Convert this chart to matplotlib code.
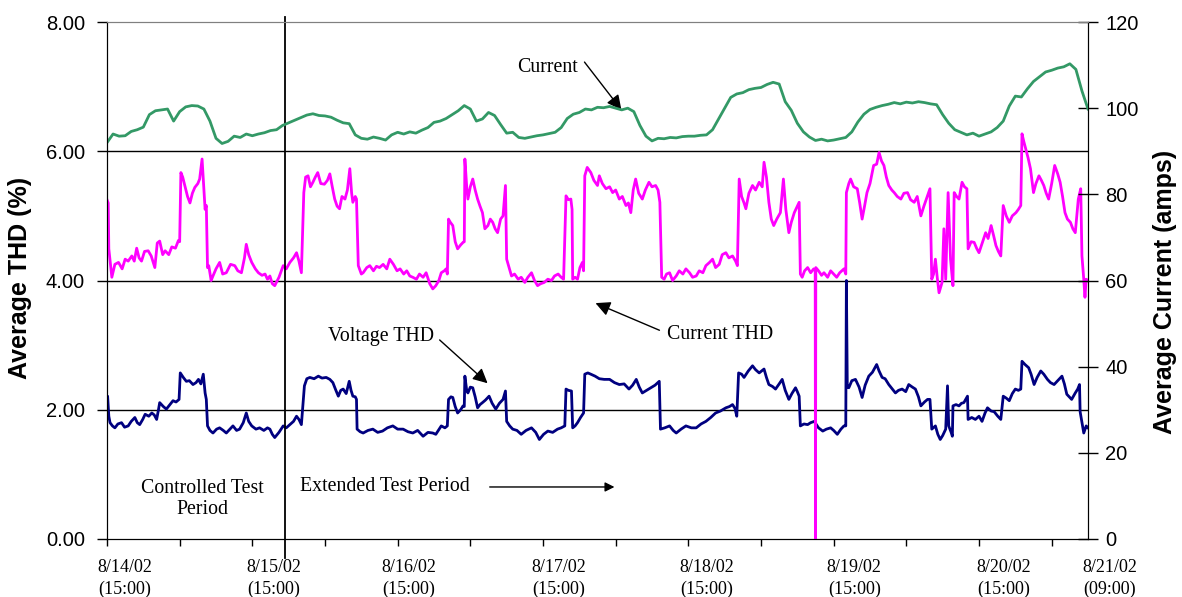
import numpy as np
import matplotlib.pyplot as plt
from matplotlib.transforms import blended_transform_factory

# hours since 8/14/02 15:00
HOURS_TOTAL = 162

# average current (amps), hourly
current_amps = [
    92.0, 94.0, 93.5, 93.6, 94.6, 95.0, 95.6, 98.5, 99.4, 99.6, 99.8, 97.0, 99.2, 100.3,
    100.6, 100.5, 99.8, 97.0, 93.0, 91.8, 92.3, 93.5, 93.2, 94.0, 93.6, 94.0, 94.3, 94.8,
    95.0, 96.0, 96.6, 97.2, 97.8, 98.4, 98.7, 98.3, 98.2, 97.9, 97.2, 96.6, 96.4, 93.8,
    93.0, 92.8, 93.3, 93.0, 92.6, 93.8, 94.4, 94.0, 94.5, 94.2, 94.9, 95.5, 96.7,
    97.0, 97.6, 98.5, 99.4, 100.6, 99.8, 97.0, 97.5, 99.0, 98.3, 96.2, 94.2, 94.4, 93.2,
    93.0, 93.3, 93.6, 93.8, 94.1, 94.4, 95.5, 97.6, 98.6, 99.0, 99.8, 99.6, 100.2,
    100.1, 100.4, 100.0, 99.6, 100.0, 99.2, 96.0, 93.5, 92.4, 93.0, 92.9, 93.2, 93.1,
    93.4, 93.5, 93.5, 93.7, 93.8, 95.0, 97.5, 100.0, 102.5, 103.3, 103.6, 104.3, 104.6, 104.8,
    105.5, 106.0, 105.6, 101.5, 99.5, 96.5, 94.5, 93.3, 92.5, 92.8, 92.4, 92.6, 92.9,
    93.2, 94.5, 96.8, 98.6, 99.7, 100.2, 100.6, 100.9, 101.3, 101.0, 101.4, 101.2, 101.5, 101.3,
    101.0, 100.8, 98.5, 96.5, 95.0, 94.4, 93.8, 94.2, 93.5, 94.0, 94.5, 95.5, 97.0,
    100.5, 102.8, 102.6, 104.5, 106.2, 107.3, 108.4, 108.8, 109.3, 109.6, 110.3, 109.0, 104.0, 99.8,
]
current_hours = np.arange(len(current_amps))

# current THD (%), (hour, value)
current_thd = [
    (0.0, 5.25), (0.2, 5.20), (0.3, 4.49), (0.8, 4.05), (1.3, 4.25), (1.9, 4.28), (2.5, 4.18),
    (3.0, 4.33), (3.5, 4.30), (4.1, 4.38), (4.5, 4.30), (4.9, 4.50), (5.3, 4.35), (5.7, 4.30),
    (6.2, 4.45), (6.8, 4.46), (7.3, 4.38), (7.9, 4.20), (8.3, 4.58), (8.7, 4.61), (9.2, 4.40),
    (9.6, 4.46), (10.2, 4.40), (10.7, 4.52), (11.3, 4.50), (11.8, 4.62), (12.0, 4.60),
    (12.2, 5.67), (12.5, 5.60), (12.9, 5.45), (13.3, 5.30), (13.7, 5.20), (14.1, 5.35),
    (14.5, 5.44), (15.0, 5.50), (15.3, 5.57), (15.7, 5.88), (16.0, 5.40), (16.2, 5.10),
    (16.4, 5.16), (16.6, 4.20), (16.8, 4.23), (17.2, 4.00), (17.5, 4.07), (18.0, 4.18),
    (18.6, 4.28), (19.1, 4.10), (19.7, 4.12), (20.4, 4.25), (21.1, 4.23), (21.6, 4.15),
    (22.2, 4.12), (22.7, 4.35), (23.0, 4.56), (23.4, 4.40), (23.9, 4.28), (24.5, 4.18),
    (25.0, 4.12), (25.6, 4.08), (26.1, 4.10), (26.5, 4.02), (26.9, 4.07), (27.3, 3.95),
    (27.7, 3.92), (28.4, 4.05), (29.1, 4.23), (29.6, 4.18), (30.2, 4.28), (30.8, 4.35),
    (31.3, 4.43), (31.7, 4.30), (32.1, 4.12), (32.5, 5.36), (32.8, 5.60), (33.2, 5.62),
    (33.6, 5.45), (34.0, 5.52), (34.4, 5.60), (34.8, 5.67), (35.3, 5.50), (35.9, 5.49),
    (36.4, 5.55), (36.8, 5.65), (37.2, 5.45), (37.6, 5.26), (38.0, 5.15), (38.4, 5.11),
    (38.8, 5.30), (39.3, 5.26), (39.7, 5.40), (40.1, 5.73), (40.4, 5.35), (40.6, 5.21),
    (41.0, 5.30), (41.2, 5.26), (41.5, 4.23), (42.0, 4.10), (42.3, 4.12), (42.9, 4.20),
    (43.4, 4.23), (44.0, 4.15), (44.5, 4.22), (45.0, 4.20), (45.6, 4.25), (46.2, 4.18),
    (46.7, 4.33), (47.3, 4.25), (47.9, 4.15), (48.4, 4.18), (49.0, 4.10), (49.5, 4.15),
    (50.0, 4.07), (50.5, 4.05), (51.1, 4.02), (51.6, 4.10), (52.2, 4.05), (52.7, 4.12),
    (53.3, 3.95), (53.8, 3.87), (54.3, 3.92), (54.8, 4.00), (55.2, 4.12), (55.7, 4.15),
    (56.0, 4.18), (56.2, 4.10), (56.4, 4.95), (56.7, 4.90), (57.1, 4.85), (57.5, 4.60),
    (57.9, 4.49), (58.4, 4.55), (58.8, 4.59), (59.0, 4.60), (59.1, 5.88), (59.4, 5.45),
    (59.6, 5.26), (60.0, 5.45), (60.4, 5.57), (60.8, 5.40), (61.2, 5.26), (61.6, 5.15),
    (62.0, 5.05), (62.4, 4.80), (62.9, 4.85), (63.3, 4.95), (63.7, 4.90), (64.1, 4.80),
    (64.5, 4.74), (65.0, 4.95), (65.4, 5.00), (65.8, 5.47), (66.0, 4.33), (66.4, 4.20),
    (66.8, 4.07), (67.3, 4.10), (67.9, 4.02), (68.4, 4.05), (69.0, 3.97), (69.5, 4.05),
    (70.1, 4.12), (70.6, 4.00), (71.1, 3.92), (71.6, 3.95), (72.2, 3.97), (72.8, 4.02),
    (73.4, 4.00), (73.9, 4.07), (74.5, 4.10), (75.0, 4.05), (75.4, 4.02), (75.8, 5.31),
    (76.2, 5.25), (76.6, 5.26), (76.8, 5.10), (76.9, 4.02), (77.3, 4.05), (77.7, 4.02),
    (78.1, 4.20), (78.5, 4.28), (78.7, 4.15), (78.9, 5.62), (79.3, 5.75), (79.9, 5.67),
    (80.4, 5.55), (81.0, 5.47), (81.3, 5.62), (81.8, 5.50), (82.4, 5.42), (83.0, 5.45),
    (83.5, 5.36), (84.0, 5.40), (84.6, 5.26), (85.1, 5.30), (85.7, 5.16), (86.1, 5.20),
    (86.5, 5.05), (86.9, 5.40), (87.3, 5.57), (87.8, 5.35), (88.4, 5.26), (88.9, 5.40),
    (89.5, 5.52), (90.0, 5.45), (90.6, 5.47), (91.0, 5.40), (91.3, 5.21), (91.6, 4.05),
    (92.0, 4.02), (92.4, 4.10), (92.9, 4.12), (93.4, 4.00), (94.0, 4.07), (94.5, 4.15),
    (95.1, 4.10), (95.6, 4.18), (96.2, 4.12), (96.7, 4.05), (97.3, 4.07), (97.8, 4.15),
    (98.4, 4.12), (98.9, 4.23), (99.5, 4.28), (100.0, 4.33), (100.5, 4.20), (101.1, 4.25),
    (101.6, 4.40), (102.2, 4.43), (102.7, 4.35), (103.3, 4.38), (103.8, 4.30), (104.1, 4.23),
    (104.4, 5.57), (104.8, 5.30), (105.2, 5.20), (105.5, 5.11), (106.0, 5.35), (106.6, 5.47),
    (107.1, 5.40), (107.7, 5.52), (108.2, 5.45), (108.5, 5.83), (108.9, 5.60), (109.3, 5.21),
    (109.7, 4.95), (110.1, 4.85), (110.6, 4.95), (111.2, 5.05), (111.7, 5.57), (112.1, 5.10),
    (112.6, 4.74), (113.0, 4.90), (113.5, 5.05), (114.0, 5.15), (114.3, 5.21), (114.5, 4.10),
    (114.8, 4.05), (115.2, 4.15), (115.7, 4.20), (116.2, 4.12), (116.7, 4.18), (116.95, 4.15),
    (117.0, 0.0), (117.05, 4.20), (117.5, 4.15), (118.0, 4.08), (118.4, 4.12), (119.0, 4.05),
    (119.5, 4.15), (120.0, 4.10), (120.5, 4.05), (121.0, 4.12), (121.7, 4.18), (122.0, 4.10),
    (122.1, 5.36), (122.5, 5.50), (122.8, 5.57), (123.3, 5.45), (123.9, 5.42), (124.3, 5.20),
    (124.7, 4.95), (125.1, 5.15), (125.5, 5.36), (126.0, 5.50), (126.6, 5.78), (127.1, 5.80),
    (127.5, 5.98), (127.9, 5.85), (128.3, 5.78), (128.7, 5.60), (129.1, 5.47), (129.6, 5.40),
    (130.0, 5.36), (130.5, 5.30), (131.1, 5.26), (131.6, 5.35), (132.2, 5.36), (132.7, 5.25),
    (133.3, 5.21), (133.8, 5.30), (134.4, 5.00), (134.9, 5.15), (135.5, 5.31), (135.9, 5.42),
    (136.2, 4.02), (136.5, 4.10), (136.8, 4.33), (137.1, 4.05), (137.4, 3.81), (137.9, 3.97),
    (138.2, 4.80), (138.5, 4.02), (138.9, 5.36), (139.3, 4.33), (139.7, 3.92), (139.9, 5.36),
    (140.3, 5.30), (140.7, 5.26), (141.2, 5.52), (141.6, 5.45), (142.0, 5.42), (142.2, 4.49),
    (142.7, 4.60), (143.2, 4.59), (143.6, 4.50), (144.0, 4.43), (144.6, 4.60), (145.1, 4.74),
    (145.5, 4.65), (146.0, 4.85), (146.4, 4.70), (146.8, 4.54), (147.2, 4.45), (147.6, 4.38),
    (148.0, 5.16), (148.5, 5.00), (149.0, 4.90), (149.5, 5.00), (150.1, 5.05), (150.5, 5.10),
    (150.9, 5.16), (151.1, 6.27), (151.4, 6.15), (151.7, 6.04), (152.1, 5.90), (152.5, 5.73),
    (153.0, 5.36), (153.4, 5.50), (153.9, 5.62), (154.3, 5.55), (154.7, 5.47), (155.1, 5.35),
    (155.5, 5.26), (156.0, 5.50), (156.5, 5.78), (157.0, 5.65), (157.4, 5.52), (157.8, 5.30),
    (158.2, 5.05), (158.6, 4.95), (159.1, 4.90), (159.5, 4.80), (159.9, 4.74), (160.4, 5.26),
    (160.8, 5.42), (161.0, 4.38), (161.3, 4.02), (161.5, 3.74), (161.7, 4.02), (162.0, 4.00),
]

# voltage THD (%), (hour, value)
voltage_thd = [
    (0.0, 2.00), (0.1, 2.21), (0.3, 1.90), (0.5, 1.80), (0.9, 1.75), (1.3, 1.72), (1.8, 1.78),
    (2.4, 1.80), (2.9, 1.73), (3.5, 1.75), (4.0, 1.82), (4.6, 1.88), (5.0, 1.80), (5.4, 1.77),
    (5.9, 1.85), (6.3, 1.93), (6.9, 1.90), (7.4, 1.95), (7.8, 1.92), (8.2, 1.85), (8.5, 2.00),
    (8.7, 2.11), (9.3, 2.05), (9.8, 2.01), (10.4, 2.08), (10.9, 2.14), (11.4, 2.12), (11.9, 2.16),
    (12.1, 2.57), (12.6, 2.50), (13.1, 2.44), (13.6, 2.45), (14.2, 2.39), (14.7, 2.42),
    (15.1, 2.47), (15.5, 2.40), (15.9, 2.55), (16.2, 2.26), (16.4, 2.16), (16.6, 1.75),
    (17.0, 1.68), (17.5, 1.64), (18.1, 1.70), (18.6, 1.72), (19.2, 1.68), (19.7, 1.64),
    (20.3, 1.70), (20.8, 1.75), (21.4, 1.68), (21.9, 1.70), (22.5, 1.80), (23.0, 1.95),
    (23.4, 1.82), (23.9, 1.75), (24.6, 1.70), (25.2, 1.72), (25.9, 1.68), (26.5, 1.72),
    (26.9, 1.70), (27.3, 1.62), (27.7, 1.57), (28.4, 1.65), (29.1, 1.75), (29.6, 1.72),
    (30.2, 1.77), (30.8, 1.82), (31.3, 1.90), (31.7, 1.85), (32.1, 1.77), (32.6, 2.37),
    (33.0, 2.48), (33.5, 2.50), (34.2, 2.48), (34.9, 2.52), (35.5, 2.49), (36.2, 2.50),
    (36.8, 2.47), (37.3, 2.42), (37.8, 2.30), (38.2, 2.21), (38.6, 2.30), (39.0, 2.32),
    (39.5, 2.25), (40.0, 2.44), (40.3, 2.30), (40.6, 2.21), (41.0, 2.20), (41.2, 2.16),
    (41.3, 1.70), (41.8, 1.66), (42.3, 1.64), (43.1, 1.68), (43.9, 1.70), (44.7, 1.65),
    (45.5, 1.67), (46.3, 1.72), (47.2, 1.75), (48.0, 1.70), (48.9, 1.70), (49.7, 1.66),
    (50.5, 1.64), (51.3, 1.68), (52.2, 1.59), (53.0, 1.65), (53.8, 1.64), (54.3, 1.62),
    (55.2, 1.75), (55.8, 1.72), (56.2, 1.75), (56.4, 2.16), (56.8, 2.20), (57.1, 2.19),
    (57.5, 2.05), (57.9, 1.95), (58.4, 2.00), (58.8, 2.06), (59.0, 2.05), (59.1, 2.52),
    (59.4, 2.30), (59.6, 2.26), (60.0, 2.35), (60.4, 2.34), (60.8, 2.20), (61.2, 2.03),
    (61.6, 2.08), (62.0, 2.11), (62.5, 2.15), (63.1, 2.21), (63.6, 2.10), (64.2, 2.01),
    (64.8, 2.10), (65.4, 2.16), (65.8, 2.29), (66.0, 1.82), (66.5, 1.75), (67.0, 1.70),
    (67.7, 1.68), (68.4, 1.62), (69.2, 1.68), (70.1, 1.72), (70.8, 1.65), (71.4, 1.54),
    (72.1, 1.62), (72.8, 1.67), (73.6, 1.65), (74.4, 1.70), (75.0, 1.72), (75.6, 1.75),
    (75.8, 2.32), (76.2, 2.30), (76.7, 2.29), (76.9, 1.72), (77.3, 1.75), (77.7, 1.80),
    (78.2, 1.88), (78.7, 1.95), (78.9, 2.55), (79.4, 2.57), (79.9, 2.55), (80.6, 2.52),
    (81.3, 2.48), (82.1, 2.47), (83.0, 2.47), (83.8, 2.42), (84.6, 2.39), (85.4, 2.40),
    (86.2, 2.32), (86.8, 2.38), (87.4, 2.47), (87.9, 2.35), (88.4, 2.26), (89.1, 2.30),
    (89.8, 2.34), (90.5, 2.38), (91.2, 2.44), (91.4, 1.70), (92.1, 1.72), (92.9, 1.75),
    (93.5, 1.68), (94.0, 1.64), (94.8, 1.70), (95.6, 1.75), (96.5, 1.72), (97.3, 1.72),
    (98.1, 1.78), (98.9, 1.82), (99.7, 1.88), (100.5, 1.95), (101.3, 1.98), (102.2, 2.03),
    (102.8, 2.05), (103.3, 2.08), (103.7, 2.02), (104.0, 1.90), (104.3, 2.57), (104.8, 2.55),
    (105.2, 2.50), (105.9, 2.60), (106.6, 2.68), (107.1, 2.62), (107.7, 2.57), (108.1, 2.60),
    (108.5, 2.63), (108.9, 2.50), (109.3, 2.39), (109.9, 2.36), (110.4, 2.32), (111.0, 2.40),
    (111.5, 2.47), (112.0, 2.30), (112.6, 2.16), (113.1, 2.25), (113.7, 2.34), (114.0, 2.28),
    (114.3, 2.21), (114.5, 1.75), (115.1, 1.78), (115.7, 1.77), (116.2, 1.80), (116.8, 1.82),
    (117.5, 1.72), (118.2, 1.67), (118.8, 1.70), (119.5, 1.72), (120.0, 1.68), (120.6, 1.62),
    (121.2, 1.70), (121.7, 1.75), (122.0, 1.75), (122.1, 4.00), (122.25, 2.35), (122.5, 2.34),
    (123.0, 2.45), (123.6, 2.47), (124.2, 2.35), (124.7, 2.19), (125.2, 2.38), (125.8, 2.52),
    (126.4, 2.58), (127.1, 2.70), (127.5, 2.60), (128.0, 2.50), (128.5, 2.48), (129.1, 2.39),
    (129.6, 2.33), (130.2, 2.26), (130.7, 2.30), (131.3, 2.32), (131.9, 2.28), (132.4, 2.39),
    (133.0, 2.35), (133.5, 2.32), (134.0, 2.20), (134.4, 2.06), (135.0, 2.12), (135.5, 2.16),
    (135.9, 2.16), (136.2, 1.70), (136.8, 1.75), (137.2, 1.62), (137.6, 1.54), (138.0, 1.60),
    (138.5, 1.70), (138.8, 2.37), (139.0, 1.75), (139.4, 1.65), (139.6, 1.59), (139.7, 2.06),
    (140.2, 2.08), (140.7, 2.06), (141.1, 2.10), (141.5, 2.11), (142.1, 2.21), (142.2, 1.85),
    (142.8, 1.88), (143.4, 1.85), (144.0, 1.90), (144.5, 1.82), (145.0, 1.95), (145.4, 2.03),
    (146.0, 1.98), (146.5, 1.97), (147.1, 1.90), (147.6, 1.85), (148.0, 2.21), (148.5, 2.18),
    (149.0, 2.14), (149.5, 2.25), (150.0, 2.32), (150.5, 2.30), (150.9, 2.32), (151.1, 2.75),
    (151.6, 2.70), (152.2, 2.65), (152.6, 2.55), (153.1, 2.39), (153.6, 2.50), (154.2, 2.60),
    (154.7, 2.55), (155.3, 2.47), (155.8, 2.42), (156.4, 2.39), (157.0, 2.45), (157.7, 2.52),
    (158.1, 2.40), (158.5, 2.24), (158.9, 2.20), (159.3, 2.16), (159.9, 2.26), (160.3, 2.32),
    (160.6, 2.39), (160.7, 1.97), (161.0, 1.80), (161.3, 1.64), (161.7, 1.75), (162.0, 1.72),
]

date_labels = ["8/14/02", "8/15/02", "8/16/02", "8/17/02", "8/18/02", "8/19/02", "8/20/02", "8/21/02"]
time_labels = ["(15:00)"] * 7 + ["(09:00)"]
label_hours = [3.0, 27.5, 49.8, 74.6, 99.0, 123.4, 148.1, 165.6]
split_hour = 29.4   # end of controlled test

sans = "Liberation Sans"
serif = "Liberation Serif"

fig = plt.figure(figsize=(11.82, 5.97), dpi=100)
ax = fig.add_axes([107 / 1182, 58 / 597, 981 / 1182, 517 / 597])
ax2 = ax.twinx()

vt = np.array(voltage_thd).T
ct = np.array(current_thd).T
ax.plot(vt[0], vt[1], color="#000080", lw=2.0, zorder=3)
ax.plot(ct[0], ct[1], color="#FF00FF", lw=2.0, zorder=4)
ax2.plot(current_hours, current_amps, color="#339966", lw=2.0)

ax.set_xlim(0, HOURS_TOTAL)
ax.set_ylim(0, 8)
ax2.set_ylim(0, 120)

for y in [2, 4, 6]:
    ax.axhline(y, color="black", lw=1.0, zorder=1)

ax.set_xticks(np.arange(0, HOURS_TOTAL, 12))
ax.set_xticklabels([])
ax.tick_params(axis="x", direction="out", length=5, width=1)
ax.set_yticks([0, 2, 4, 6, 8])
ax.set_yticklabels(["%.2f" % v for v in [0, 2, 4, 6, 8]], fontfamily=sans, fontsize=14.5)
ax.tick_params(axis="y", direction="out", length=7, width=1, pad=9)
ax2.set_yticks(np.arange(0, 121, 20))
ax2.set_yticklabels([str(v) for v in range(0, 121, 20)], fontfamily=sans, fontsize=14.5)
ax2.tick_params(axis="y", direction="inout", length=15, width=1, pad=5)

for a in (ax, ax2):
    a.spines["top"].set_color("#808080")
    a.spines["left"].set_color("black")
    a.spines["right"].set_color("black")
    a.spines["bottom"].set_color("black")

# date labels under the axis
tr = blended_transform_factory(ax.transData, fig.transFigure)
for h, d, t in zip(label_hours, date_labels, time_labels):
    ax.text(h, 1 - 568 / 597, d, transform=tr, ha="center", va="center",
            fontfamily=serif, fontsize=13)
    ax.text(h, 1 - 589 / 597, t, transform=tr, ha="center", va="center",
            fontfamily=serif, fontsize=13)

# axis titles
fig.text(20 / 1182, 1 - 278 / 597, "Average THD (%)", rotation=90, ha="center", va="center",
         fontfamily=sans, fontweight="bold", fontsize=18)
fig.text(1165 / 1182, 1 - 292 / 597, "Average Current (amps)", rotation=90, ha="center",
         va="center", fontfamily=sans, fontweight="bold", fontsize=18)

# test period divider
ax.plot([split_hour, split_hour], [-0.037, 1.01], color="black", lw=1.3,
        transform=ax.get_xaxis_transform(), clip_on=False, zorder=5)

# annotations
arrow = dict(arrowstyle="-|>", color="black", lw=1.0, mutation_scale=22, shrinkA=0, shrinkB=0)
ax.text(77.7, 7.30, "Current", ha="right", va="center", fontfamily=serif, fontsize=14.3)
ax.annotate("", xy=(84.95, 6.64), xytext=(78.85, 7.38), arrowprops=arrow)
ax.text(92.4, 3.16, "Current THD", ha="left", va="center", fontfamily=serif, fontsize=14.3)
ax.annotate("", xy=(80.67, 3.65), xytext=(91.23, 3.23), arrowprops=arrow)
ax.text(36.5, 3.14, "Voltage THD", ha="left", va="center", fontfamily=serif, fontsize=14.3)
ax.annotate("", xy=(62.85, 2.41), xytext=(54.93, 3.08), arrowprops=arrow)
ax.text(15.7, 0.62, "Controlled Test\nPeriod", ha="center", va="center", linespacing=1.2,
        fontfamily=serif, fontsize=14.3)
ax.text(31.8, 0.805, "Extended Test Period", ha="left", va="center", fontfamily=serif, fontsize=14.3)
ax.annotate("", xy=(83.8, 0.805), xytext=(63.2, 0.805),
            arrowprops=dict(arrowstyle="-|>", color="black", lw=1.0, mutation_scale=14,
                            shrinkA=0, shrinkB=0))

fig.savefig("out.png", dpi=100)
